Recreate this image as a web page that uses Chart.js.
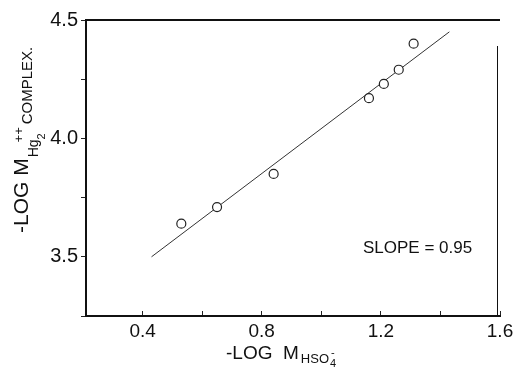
<!DOCTYPE html>
<html>
<head>
<meta charset="utf-8">
<script src="https://cdn.jsdelivr.net/npm/chart.js@4/dist/chart.umd.min.js"></script>
<style>
  html, body { margin: 0; padding: 0; background: #fff; }
  canvas { display: block; }
</style>
</head>
<body>
<canvas id="chart" width="513" height="368"></canvas>
<script>
// measured points (-log M HSO4-, -log M Hg2++ complex)
const xVals = [0.53, 0.65, 0.84, 1.16, 1.21, 1.26, 1.31];
const yVals = [3.64, 3.71, 3.85, 4.17, 4.23, 4.29, 4.40];

// fitted line, slope 0.95
const fitX = [0.43, 1.43];
const fitY = [3.50, 4.45];

const slopeLabel = 'SLOPE = 0.95';
const slopeAt = { x: 1.14, y: 3.515 };

const ink = '#111';
Chart.defaults.font.family = "'Liberation Sans', Arial, sans-serif";
Chart.defaults.color = ink;

function onStep(v, step) {
    const r = v / step;
    return Math.abs(r - Math.round(r)) < 1e-6;
}

// top + right border lines, axis titles with sub/superscripts, slope note
const extras = {
    id: 'extras',
    afterDraw(chart) {
        const ctx = chart.ctx;
        const a = chart.chartArea;
        const xs = chart.scales.x, ys = chart.scales.y;
        ctx.save();
        ctx.strokeStyle = ink;
        ctx.lineWidth = 2;
        ctx.beginPath();
        ctx.moveTo(a.left - 1, a.top);
        ctx.lineTo(a.right, a.top);
        ctx.stroke();
        ctx.lineWidth = 1;
        ctx.beginPath();
        ctx.moveTo(a.right - 2.5, a.top + 26);
        ctx.lineTo(a.right - 2.5, a.bottom);
        ctx.stroke();

        ctx.fillStyle = ink;
        ctx.textBaseline = 'alphabetic';
        ctx.textAlign = 'left';
        const fam = "'Liberation Sans', Arial, sans-serif";

        // x title: -LOG M_HSO4^-
        let x = 226, y = 359;
        ctx.font = '19px ' + fam;
        ctx.fillText('-LOG  M', x, y);
        x += ctx.measureText('-LOG  M').width + 2;
        ctx.font = '13px ' + fam;
        ctx.fillText('HSO', x, y + 4);
        x += ctx.measureText('HSO').width + 1;
        ctx.font = '11px ' + fam;
        ctx.fillText('4', x, y + 8);
        ctx.fillText('-', x + 1, y - 3);

        // y title, rotated: -LOG M_Hg2^++ COMPLEX.
        ctx.translate(28, 233);
        ctx.rotate(-Math.PI / 2);
        let t = 0;
        ctx.font = '21px ' + fam;
        ctx.fillText('-LOG M', t, 0);
        t += ctx.measureText('-LOG M').width + 1;
        ctx.font = '14px ' + fam;
        ctx.fillText('Hg', t, 10);
        t += ctx.measureText('Hg').width;
        ctx.font = '11px ' + fam;
        ctx.fillText('2', t, 17);
        ctx.font = '13px ' + fam;
        ctx.fillText('++', t - 3, -5);
        t += ctx.measureText('++').width;
        ctx.font = '15px ' + fam;
        ctx.fillText('COMPLEX.', t, 4);
        ctx.restore();

        ctx.save();
        ctx.fillStyle = ink;
        ctx.font = '17px ' + fam;
        ctx.textAlign = 'left';
        ctx.textBaseline = 'alphabetic';
        ctx.fillText(slopeLabel, xs.getPixelForValue(slopeAt.x), ys.getPixelForValue(slopeAt.y));
        ctx.restore();
    }
};

const ctx = document.getElementById('chart').getContext('2d');
new Chart(ctx, {
    type: 'scatter',
    data: {
        datasets: [
            {
                label: 'data',
                data: xVals.map((v, i) => ({ x: v, y: yVals[i] })),
                pointStyle: 'circle',
                pointRadius: 4.5,
                borderWidth: 1.2,
                borderColor: '#222',
                backgroundColor: '#fff',
                order: 0
            },
            {
                label: 'fit',
                type: 'line',
                data: fitX.map((v, i) => ({ x: v, y: fitY[i] })),
                borderColor: '#333',
                borderWidth: 1,
                pointRadius: 0,
                fill: false,
                order: 1
            }
        ]
    },
    options: {
        responsive: false,
        animation: false,
        layout: { padding: { top: 20, right: 13, left: 0, bottom: 0 } },
        plugins: {
            legend: { display: false },
            tooltip: { enabled: false }
        },
        scales: {
            x: {
                type: 'linear',
                position: 'bottom',
                min: 0.21,
                max: 1.6,
                afterFit: s => { s.height = 52; s.paddingRight = 0; s.paddingLeft = 0; },
                ticks: {
                    stepSize: 0.2,
                    includeBounds: false,
                    autoSkip: false,
                    maxRotation: 0,
                    padding: 9,
                    font: { size: 19 },
                    color: ink,
                    callback: v => onStep(v, 0.4) ? v.toFixed(1) : ''
                },
                grid: { drawOnChartArea: false, tickLength: -5, color: '#222', lineWidth: 1 },
                border: { color: ink, width: 2 }
            },
            y: {
                type: 'linear',
                min: 3.25,
                max: 4.5,
                afterFit: s => { s.width = 86; s.paddingTop = 0; s.paddingBottom = 0; },
                ticks: {
                    stepSize: 0.25,
                    includeBounds: false,
                    autoSkip: false,
                    padding: 3,
                    font: { size: 20 },
                    color: ink,
                    callback: v => onStep(v, 0.5) ? v.toFixed(1) : ''
                },
                grid: { drawOnChartArea: false, tickLength: 5, color: '#222', lineWidth: 1 },
                border: { color: ink, width: 2 }
            }
        }
    },
    plugins: [extras]
});
</script>
</body>
</html>
